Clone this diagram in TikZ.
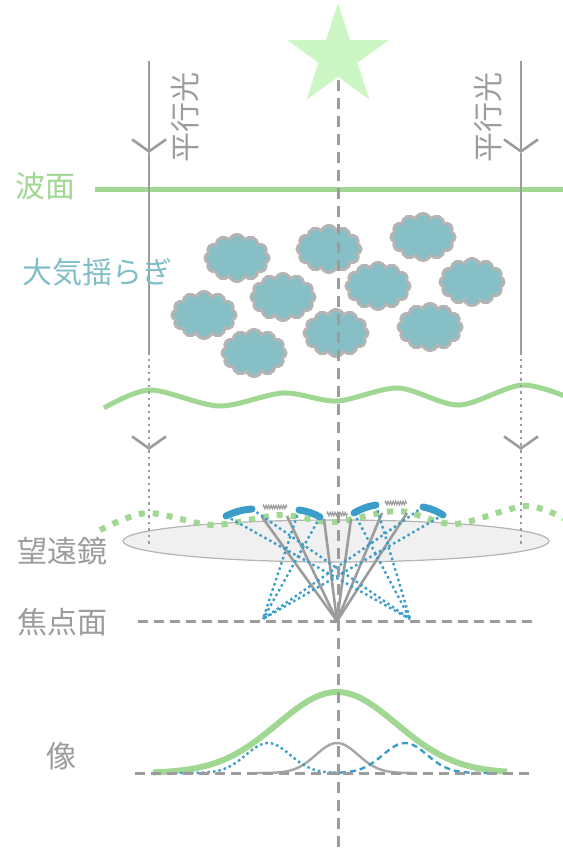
\documentclass[tikz,border=0pt]{standalone}
\usepackage{fontspec}
\setmainfont{Noto Sans CJK JP}
\usepackage{tikz}
\usetikzlibrary{arrows.meta,shapes.geometric,shapes.symbols,decorations.pathmorphing}

\definecolor{wavegreen}{HTML}{A0D792}
\definecolor{stargreen}{HTML}{CCF6C4}
\definecolor{cloudfill}{HTML}{86C0C6}
\definecolor{cloudtext}{HTML}{80BFC7}
\definecolor{linegray}{HTML}{9C9C9C}
\definecolor{edgegray}{HTML}{B4B4B4}
\definecolor{lensfill}{HTML}{F0F0F0}
\definecolor{rayblue}{HTML}{3C9EC8}

\begin{document}
\begin{tikzpicture}[x=1pt,y=-1pt,
    lbl/.style={font=\fontsize{30}{30}\selectfont,text=linegray,inner sep=0pt},
    axis/.style={linegray,line width=3pt,dash pattern=on 11pt off 7pt},
    parallel/.style={linegray,line width=2.6pt},
    faint/.style={dash pattern=on 2.5pt off 4pt},
    barb/.style={-{Straight Barb[length=12pt,width=34pt]}},
    puff/.style={cloud,cloud puffs=12,cloud puff arc=140,aspect=1.4,minimum width=64pt,minimum height=47pt,
        inner sep=0pt,fill=cloudfill,draw=edgegray,line width=3pt},
    wave/.style={wavegreen,line width=5pt},
    mirror/.style={rayblue,line width=7pt,line cap=round},
    squiggle/.style={linegray,line width=1.2pt,decorate,
        decoration={zigzag,segment length=2.5pt,amplitude=1.6pt}},
    grayray/.style={linegray,line width=2.6pt},
    blueray/.style={rayblue,line width=2.4pt,dash pattern=on 2.5pt off 3pt}]
    \useasboundingbox (0,0) rectangle (562,850);

    \node[star,star points=5,star point ratio=2.62,minimum size=107pt,inner sep=0pt,fill=stargreen] (star) at (338,56.5) {};

    % turbulent cells
    \node[puff] (c1) at (237,258) {};
    \node[puff] (c2) at (329,249) {};
    \node[puff] (c3) at (423,237) {};
    \node[puff] (c4) at (283,297) {};
    \node[puff] (c5) at (378,286) {};
    \node[puff] (c6) at (472,282) {};
    \node[puff] (c7) at (204,315) {};
    \node[puff] (c8) at (336,333) {};
    \node[puff] (c9) at (430,327) {};
    \node[puff] (c10) at (254,353) {};

    % wave fronts
    \draw[wave] (95,190) -- (575,190);
    \draw[wave] plot[smooth] coordinates {(104,408) (150,390) (219,406) (283,393) (337,401) (398,388) (459,405) (523,385) (580,402)};

    \node[ellipse,minimum width=426pt,minimum height=42pt,inner sep=0pt,fill=lensfill,draw=edgegray,line width=1.2pt] (lens) at (336,541) {};

    \draw[wave,line width=6pt,dash pattern=on 6pt off 8pt] plot[smooth] coordinates {(100,530) (147,513) (213,525) (280,515) (333,522) (398,511) (455,524) (527,506) (575,524)};

    % parallel light, left and right
    \coordinate (lt) at (149,61);
    \coordinate (lv1) at (149,153);
    \coordinate (lm) at (149,352);
    \coordinate (lv2) at (149,450);
    \coordinate (lb) at (149,545);
    \coordinate (rt) at (521,61);
    \coordinate (rv1) at (521,153);
    \coordinate (rm) at (521,352);
    \coordinate (rv2) at (521,450);
    \coordinate (rb) at (521,545);
    \draw[parallel,barb] (lt) -- (lv1);
    \draw[parallel] (lv1) -- (lm);
    \draw[parallel,faint,barb] (lm) -- (lv2);
    \draw[parallel,faint] (lv2) -- (lb);
    \draw[parallel,barb] (rt) -- (rv1);
    \draw[parallel] (rv1) -- (rm);
    \draw[parallel,faint,barb] (rm) -- (rv2);
    \draw[parallel,faint] (rv2) -- (rb);

    % focal points
    \coordinate (focus) at (337,621);
    \coordinate (fleft) at (263,619);
    \coordinate (fright) at (410,619);

    % undisturbed pieces -> centre
    \coordinate (g1a) at (263,507);
    \coordinate (g1b) at (287,507);
    \coordinate (g2a) at (327,514);
    \coordinate (g2b) at (348,514);
    \coordinate (g3a) at (385,503);
    \coordinate (g3b) at (407,503);
    \coordinate (t1) at (262,517);
    \coordinate (t2) at (287,516);
    \coordinate (t3) at (324,519);
    \coordinate (t4) at (351,519);
    \coordinate (t5) at (382,513);
    \coordinate (t6) at (407,513);
    \draw[grayray] (focus) -- (t1);
    \draw[grayray] (focus) -- (t2);
    \draw[grayray] (focus) -- (t3);
    \draw[grayray] (focus) -- (t4);
    \draw[grayray] (focus) -- (t5);
    \draw[grayray] (focus) -- (t6);
    \draw[squiggle] (g1a) -- (g1b);
    \draw[squiggle] (g2a) -- (g2b);
    \draw[squiggle] (g3a) -- (g3b);

    % tilted pieces -> side points
    \coordinate (m1a) at (226,516);
    \coordinate (m1b) at (252,509);
    \coordinate (m2a) at (299,510);
    \coordinate (m2b) at (320,517);
    \coordinate (m3a) at (354,513);
    \coordinate (m3b) at (376,505);
    \coordinate (m4a) at (423,507);
    \coordinate (m4b) at (443,515);
    \draw[blueray] (m1a) -- (fright);
    \draw[blueray] (m1b) -- (fright);
    \draw[blueray] (m3a) -- (fright);
    \draw[blueray] (m3b) -- (fright);
    \draw[blueray] (m2a) -- (fleft);
    \draw[blueray] (m2b) -- (fleft);
    \draw[blueray] (m4a) -- (fleft);
    \draw[blueray] (m4b) -- (fleft);
    \draw[mirror] (m1a) to[bend left=10] (m1b);
    \draw[mirror] (m2a) to[bend left=10] (m2b);
    \draw[mirror] (m3a) to[bend left=10] (m3b);
    \draw[mirror] (m4a) to[bend left=10] (m4b);

    % image profiles
    \draw[wavegreen,line width=6pt] plot[domain=153:507,samples=90] (\x,{773-81*exp(-0.5*((\x-337)/59.5)^2)});
    \draw[linegray!90,line width=2.4pt] plot[domain=257:417,samples=60] (\x,{773-30*exp(-0.5*((\x-337)/21)^2)});
    \draw[blueray] plot[domain=180:340,samples=60] (\x,{773-30*exp(-0.5*((\x-268)/22)^2)});
    \draw[rayblue,line width=2.4pt,dash pattern=on 6pt off 4pt] plot[domain=330:490,samples=60] (\x,{773-30*exp(-0.5*((\x-405)/22)^2)});

    % optical axis and planes
    \coordinate (top) at (338,80);
    \coordinate (bottom) at (338,850);
    \coordinate (fpl) at (138,621);
    \coordinate (fpr) at (533,621);
    \coordinate (ipl) at (135,773);
    \coordinate (ipr) at (530,773);
    \draw[axis] (top) -- (bottom);
    \draw[axis,dash pattern=on 10pt off 6pt] (fpl) -- (fpr);
    \draw[axis,dash pattern=on 10pt off 6pt] (ipl) -- (ipr);

    % labels
    \node[lbl,text=wavegreen] (front) at (45,186) {波面};
    \node[lbl,text=cloudtext] (seeing) at (97,272) {大気揺らぎ};
    \node[lbl] (scopelbl) at (62,551) {望遠鏡};
    \node[lbl] (focallbl) at (62,622) {焦点面};
    \node[lbl] (imagelbl) at (61,756) {像};
    \node[lbl,rotate=90] (parleft) at (185,118) {平行光};
    \node[lbl,rotate=90] (parright) at (488,118) {平行光};
\end{tikzpicture}
\end{document}
